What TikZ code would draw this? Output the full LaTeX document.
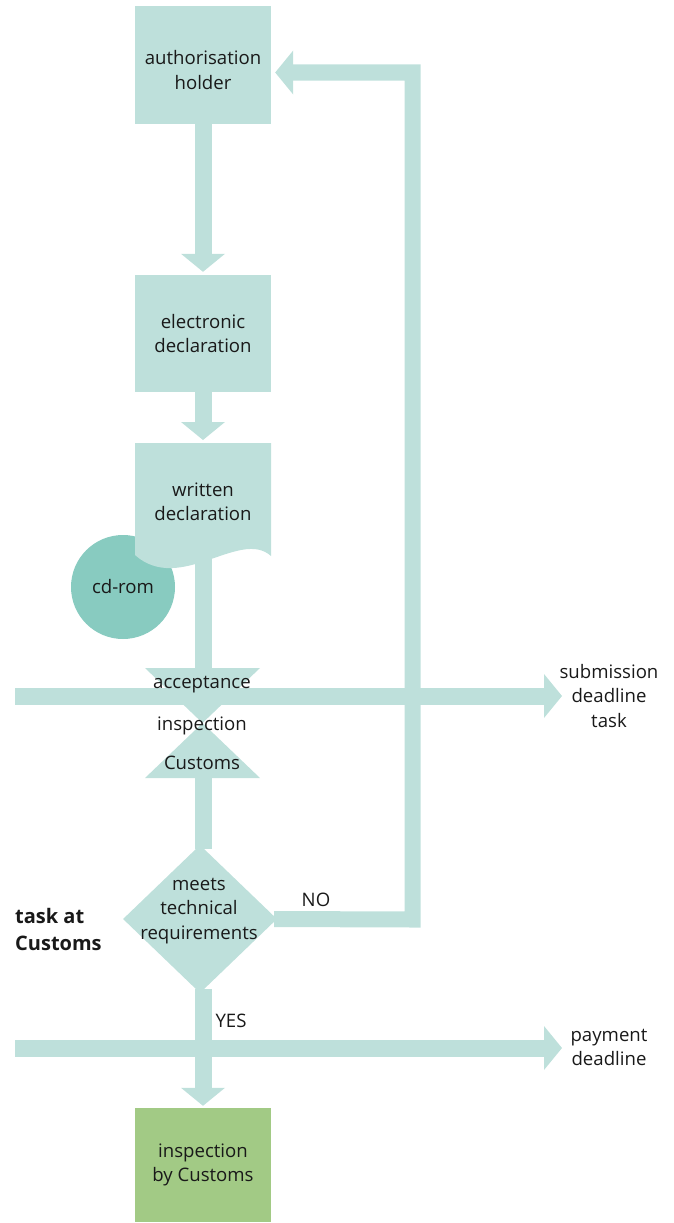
\documentclass[tikz,border=0pt]{standalone}
\usepackage{fontspec}
\setmainfont{Open Sans}
\usetikzlibrary{arrows.meta,shapes.geometric}
\definecolor{lt}{HTML}{BEE0DB}
\definecolor{cdc}{HTML}{88CBC0}
\definecolor{gr}{HTML}{A2CA85}
\begin{document}
\begin{tikzpicture}[x=1pt,y=-1pt,
  txt/.style={align=center, inner sep=0, font=\fontsize{18.6}{24.5}\selectfont, text=black!90},
  box/.style={txt, fill=lt, minimum width=136pt, minimum height=118pt},
  flow/.style={draw=lt, line width=17pt},
  farrow/.style={flow, -{Triangle[width=44pt,length=18pt,line width=0pt]}},
]
\useasboundingbox (0,0) rectangle (674,1223);

% cd-rom behind the document
\node[txt, circle, fill=cdc, minimum size=104pt] (cd) at (123,587) {};

% written declaration (document shape)
\coordinate (wdtop) at (203,443);
\coordinate (wdbot) at (203,550);
\fill[lt] (135,443) -- (271,443) -- (271,556)
  .. controls (240,528) and (180,595) .. (135,555) -- cycle;

% boxes
\node[box] (auth) at (203,65) {};
\node[box, minimum height=117pt] (elec) at (203,333.5) {electronic\\declaration};
\node[box, fill=gr, minimum height=114pt] (insp) at (203,1165) {inspection\\by Customs};

% hourglass
\coordinate (hgt) at (203,668);
\coordinate (hgb) at (203,778);
\fill[lt] (145,668) -- (260,668) -- (145,778) -- (260,778) -- cycle;

% decision diamond
\node[diamond, fill=lt, minimum width=154pt, minimum height=148pt, inner sep=0] (dia) at (200,919) {};

% deadline bar ends
\coordinate (s1) at (15,696);
\coordinate (e1) at (562,696);
\coordinate (s2) at (15,1048);
\coordinate (e2) at (562,1048);

% connectors
\draw[farrow] (auth.south) -- ([yshift=3pt]elec.north);
\draw[farrow] (elec.south) -- ([yshift=3pt]wdtop);
\draw[flow] (wdbot) -- (hgt);
\draw[flow] (hgb) -- ([yshift=-4pt]hgb |- dia.north);
\draw[farrow] ([yshift=4pt]hgb |- dia.south) -- ([yshift=2pt]insp.north);
\draw[farrow] (s1) -- (e1);
\draw[farrow] (s2) -- (e2);
\draw[farrow, line width=16pt, line join=miter]
  ([xshift=-3pt]dia.east) -- (412.5,919.5) -- (412.5,72.5) -- ([shift={(4pt,-7.5pt)}]auth.east);

% texts
\node[txt] (autht) at (203,70) {authorisation\\holder};
\node[txt] (cdt) at (cd) {cd-rom};
\node[txt] (wd) at (203,502) {written\\declaration};
\node[txt] (acc) at (202,685) {acceptance};
\node[txt] (ins) at (202,726) {inspection};
\node[txt] (cus) at (202,763) {Customs};
\node[txt] (mtr) at (199,911) {meets\\technical\\requirements};
\node[txt] (no) at (316,900) {NO};
\node[txt] (yes) at (231,1021) {YES};
\node[txt] (subm) at (609,696) {submission\\deadline\\task};
\node[txt] (pay) at (609,1047.5) {payment\\deadline};
\node[txt, align=left, anchor=west, font=\fontsize{20}{27}\selectfont\bfseries] (task) at (15,929) {task at\\Customs};
\end{tikzpicture}
\end{document}
